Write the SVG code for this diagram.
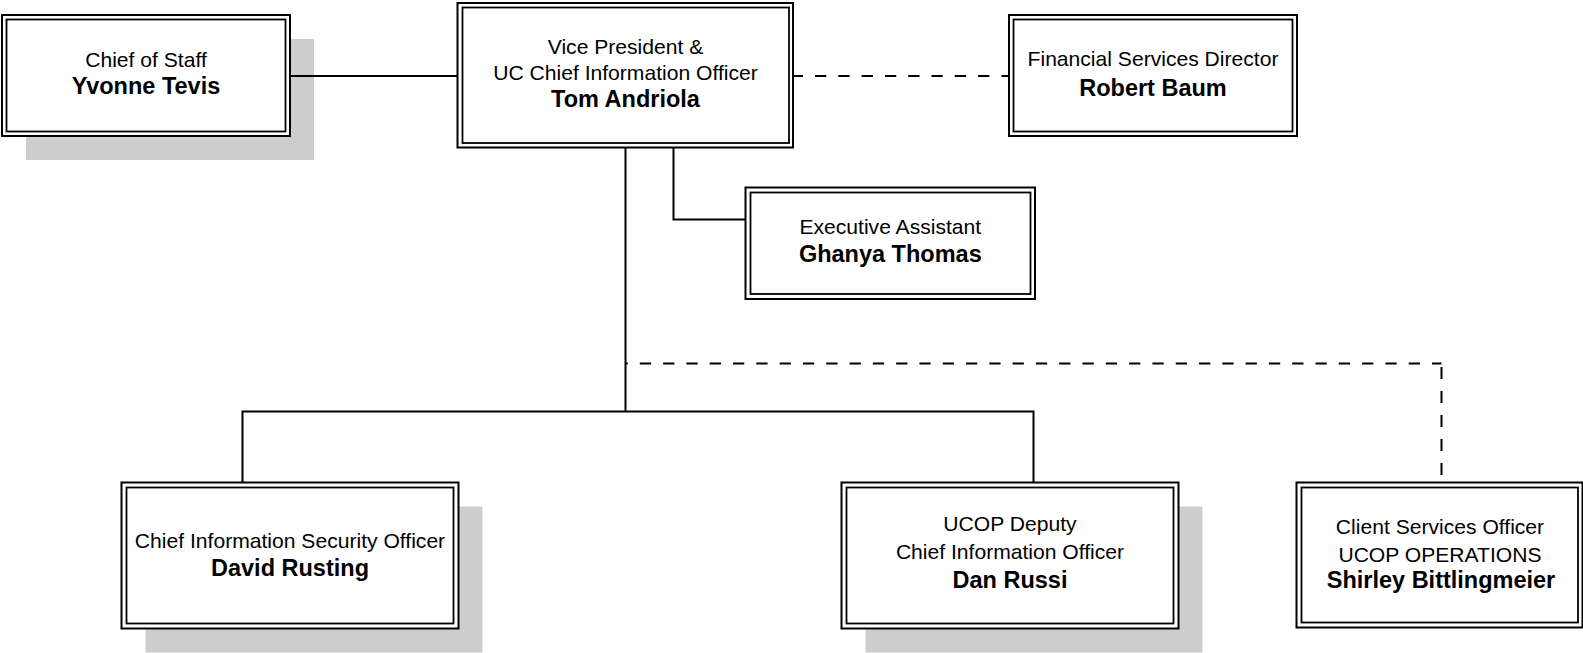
<svg xmlns="http://www.w3.org/2000/svg" width="1583" height="653" viewBox="0 0 1583 653">
<style>
.bg{fill:#ffffff}
.sh{fill:#cdcdcd}
.ob{fill:#ffffff;stroke:#000;stroke-width:2}
.ib{fill:none;stroke:#000;stroke-width:1.8}
.t{font-family:"Liberation Sans",Arial,sans-serif;font-size:21.1px;fill:#000;text-anchor:middle}
.b{font-family:"Liberation Sans",Arial,sans-serif;font-size:23.5px;font-weight:bold;fill:#000;text-anchor:middle}
.ln{fill:none;stroke:#000;stroke-width:2}
.ds{fill:none;stroke:#000;stroke-width:2;stroke-dasharray:11.3 12}
</style>
<rect class="bg" x="0" y="0" width="1583" height="653"/>
<g id="chief-of-staff">
<rect class="sh" x="26" y="39" width="288" height="121"/>
<rect class="ob" x="2" y="15" width="288" height="121"/>
<rect class="ib" x="6.5" y="19.5" width="279" height="112"/>
<text class="t" x="146" y="66.7">Chief of Staff</text>
<text class="b" x="146" y="94.3">Yvonne Tevis</text>
</g>
<g id="vp-cio">
<rect class="ob" x="457.5" y="3" width="335.5" height="144.5"/>
<rect class="ib" x="462.5" y="7.5" width="326.5" height="135.5"/>
<text class="t" x="625.5" y="54">Vice President &amp;</text>
<text class="t" x="625.5" y="80">UC Chief Information Officer</text>
<text class="b" x="625.5" y="107.3">Tom Andriola</text>
</g>
<g id="financial-services">
<rect class="ob" x="1009" y="15" width="288" height="121"/>
<rect class="ib" x="1013.5" y="19.5" width="279" height="112"/>
<text class="t" x="1153" y="66">Financial Services Director</text>
<text class="b" x="1153" y="95.7">Robert Baum</text>
</g>
<g id="executive-assistant">
<rect class="ob" x="745.5" y="187.5" width="289.5" height="111.5"/>
<rect class="ib" x="750.5" y="192.5" width="280" height="101.5"/>
<text class="t" x="890.3" y="234">Executive Assistant</text>
<text class="b" x="890.3" y="261.7">Ghanya Thomas</text>
</g>
<g id="ciso">
<rect class="sh" x="145.5" y="506.5" width="337" height="146"/>
<rect class="ob" x="121.5" y="482.5" width="337" height="146"/>
<rect class="ib" x="126.5" y="487.5" width="327" height="136"/>
<text class="t" x="290" y="548.3">Chief Information Security Officer</text>
<text class="b" x="290" y="576">David Rusting</text>
</g>
<g id="deputy-cio">
<rect class="sh" x="865.5" y="506.5" width="337" height="146"/>
<rect class="ob" x="841.5" y="482.5" width="337" height="146"/>
<rect class="ib" x="846.5" y="487.5" width="327" height="136"/>
<text class="t" x="1010" y="531">UCOP Deputy</text>
<text class="t" x="1010" y="559">Chief Information Officer</text>
<text class="b" x="1010" y="587.7">Dan Russi</text>
</g>
<g id="client-services">
<rect class="ob" x="1296.5" y="482.5" width="286" height="145"/>
<rect class="ib" x="1301.5" y="487.5" width="276.5" height="135"/>
<text class="t" x="1440" y="534.3">Client Services Officer</text>
<text class="t" x="1440" y="561.7">UCOP OPERATIONS</text>
<text class="b" x="1441" y="588.3">Shirley Bittlingmeier</text>
</g>
<g id="connectors">
<path class="ln" d="M290,76 H457.5"/>
<path class="ds" d="M793,76 H1009" stroke-dashoffset="1.3"/>
<path class="ln" d="M673.5,147.5 V219.5 H745.5"/>
<path class="ln" d="M625.5,147.5 V411.5"/>
<path class="ln" d="M242.5,482.5 V411.5 H1033.5 V482.5"/>
<path class="ds" d="M625.5,363.5 H1441.5" stroke-dashoffset="9"/>
<path class="ds" d="M1441.5,367 V475" style="stroke-dasharray:12 12"/>
</g>
</svg>
